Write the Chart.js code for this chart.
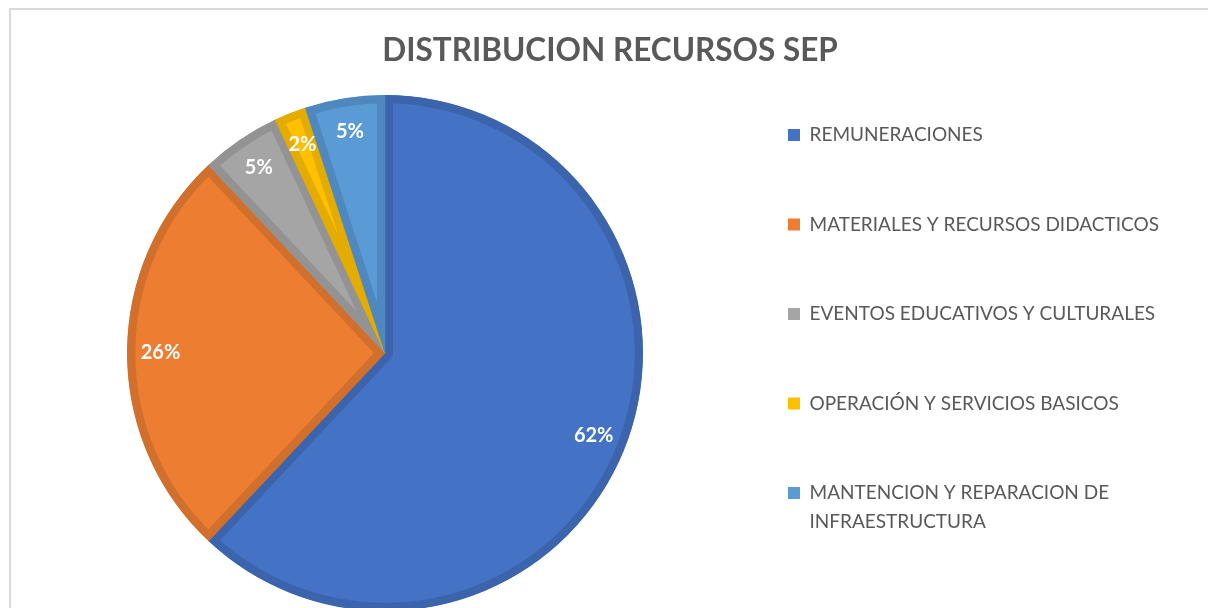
<!DOCTYPE html>
<html>
<head>
<meta charset="utf-8">
<title>Distribucion recursos SEP</title>
<script src="https://cdn.jsdelivr.net/npm/chart.js@4.4.0/dist/chart.umd.min.js"></script>
<style>
html, body { margin: 0; padding: 0; overflow: hidden; background: #fff; }
#frame { position: absolute; left: 9px; top: 8px; width: 1400px; height: 800px; border: 2px solid #d9d9d9; }
#wrap { position: absolute; left: 0; top: 0; width: 1208px; height: 611px; }
</style>
</head>
<body>
<div id="frame"></div>
<div id="wrap"><canvas id="pie"></canvas></div>
<script>
var categories = [
    'REMUNERACIONES',
    'MATERIALES Y RECURSOS DIDACTICOS',
    'EVENTOS EDUCATIVOS Y CULTURALES',
    'OPERACIÓN Y SERVICIOS BASICOS',
    'MANTENCION Y REPARACION DE INFRAESTRUCTURA'
];
var shares = [62, 26, 5, 2, 5];
var fillColors = ['#4472C4', '#ED7D31', '#A5A5A5', '#FFC000', '#5B9BD5'];
var edgeColors = ['#3B64AD', '#D0702C', '#939393', '#E5AC00', '#4F88BE'];

var legendFont = { family: 'Lato', size: 19, lineHeight: 1.5 };

// split long legend labels in two lines like the original
function wrapLabel(ctx, text, maxWidth) {
    var words = text.split(' ');
    var lines = [];
    var line = '';
    for (var i = 0; i < words.length; i++) {
        var test = line ? line + ' ' + words[i] : words[i];
        if (line && ctx.measureText(test).width > maxWidth) {
            lines.push(line);
            line = words[i];
        } else {
            line = test;
        }
    }
    lines.push(line);
    return lines.length > 1 ? lines : lines[0];
}

var percentLabels = {
    id: 'percentLabels',
    afterDatasetsDraw: function(chart) {
        var ctx = chart.ctx;
        var meta = chart.getDatasetMeta(0);
        var total = shares.reduce(function(a, b) { return a + b; }, 0);
        ctx.save();
        ctx.font = 'bold 20px Lato';
        ctx.fillStyle = '#ffffff';
        ctx.textAlign = 'center';
        ctx.textBaseline = 'middle';
        meta.data.forEach(function(arc, i) {
            var p = arc.getProps(['x', 'y', 'startAngle', 'endAngle', 'outerRadius'], true);
            var mid = (p.startAngle + p.endAngle) / 2;
            var r = p.outerRadius * 0.87;
            ctx.fillText(Math.round(shares[i] / total * 100) + '%', p.x + Math.cos(mid) * r, p.y + Math.sin(mid) * r);
        });
        ctx.restore();
    }
};

new Chart(document.getElementById('pie'), {
    type: 'pie',
    data: {
        labels: categories,
        datasets: [{
            data: shares,
            backgroundColor: fillColors,
            borderColor: edgeColors,
            borderWidth: 8,
            borderAlign: 'inner',
            hoverOffset: 0,
            offset: 0,
            clip: false
        }]
    },
    options: {
        responsive: true,
        maintainAspectRatio: false,
        animation: false,
        layout: { padding: { left: 52.5, right: 40.5, top: 0, bottom: 0 } },
        plugins: {
            title: {
                display: true,
                text: 'DISTRIBUCION RECURSOS SEP',
                color: '#595959',
                font: { family: 'Lato', size: 31.5, weight: 'bold', lineHeight: 1.2 },
                padding: { top: 32, bottom: 25.2 }
            },
            legend: {
                position: 'right',
                align: 'end',
                maxWidth: 450,
                labels: {
                    boxWidth: 12,
                    boxHeight: 12,
                    padding: 70.5,
                    color: '#595959',
                    font: legendFont,
                    generateLabels: function(chart) {
                        var ds = chart.data.datasets[0];
                        var ctx = chart.ctx;
                        ctx.save();
                        ctx.font = legendFont.size + 'px ' + legendFont.family;
                        var items = chart.data.labels.map(function(lbl, i) {
                            return {
                                text: wrapLabel(ctx, lbl, 360),
                                fillStyle: ds.backgroundColor[i],
                                strokeStyle: ds.backgroundColor[i],
                                lineWidth: 0,
                                fontColor: '#595959',
                                hidden: false,
                                index: i
                            };
                        });
                        ctx.restore();
                        return items;
                    }
                }
            },
            tooltip: { enabled: false }
        }
    },
    plugins: [percentLabels]
});
</script>
</body>
</html>
